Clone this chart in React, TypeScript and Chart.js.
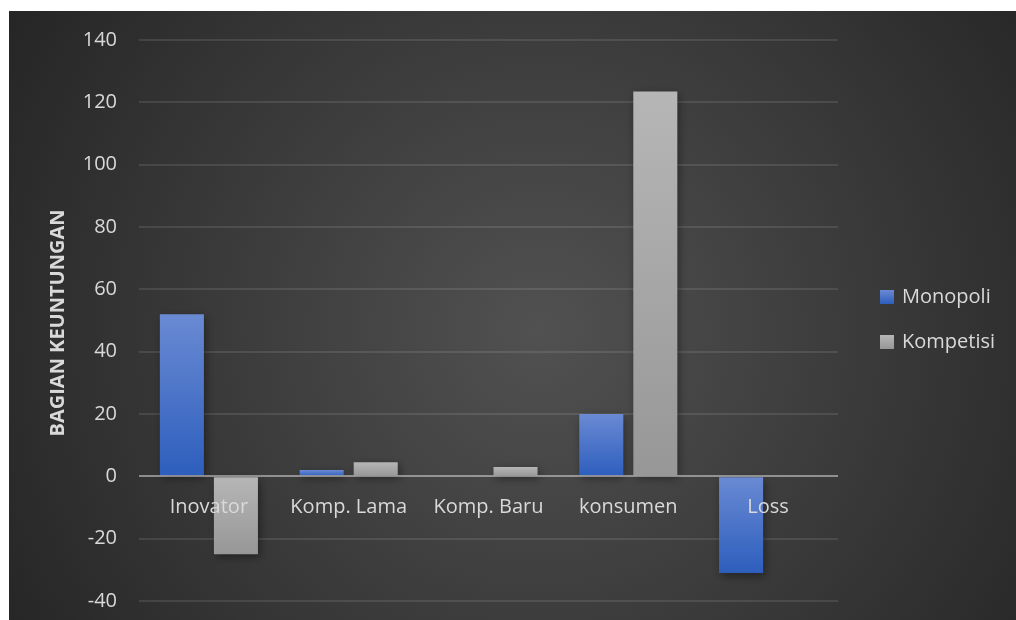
import React, { useEffect, useRef } from "react";
import { Chart, registerables } from "chart.js";

Chart.register(...registerables);

const categories = ["Inovator", "Komp. Lama", "Komp. Baru", "konsumen", "Loss"];
const monopoli = [52, 2, 0, 20, -31];
const kompetisi = [-25, 4.5, 3, 123.5, 0];
const seriesNames = ["Monopoli", "Kompetisi"];
const yAxisTitle = "BAGIAN KEUNTUNGAN";
const yMin = -40;
const yMax = 140;
const yStep = 20;

const FONT = "'Open Sans', 'DejaVu Sans', sans-serif";
const TEXT = "#d9d9d9";

const palettes = [
  { light: "#6a8ad3", dark: "#2d5ebd", legend: "#4a72cc" },
  { light: "#b6b6b6", dark: "#979797", legend: "#a8a8a8" },
];

function gradientFill(pal: { light: string; dark: string; legend: string }) {
  return (ctx: any) => {
    const chart = ctx.chart;
    if (ctx.type !== "data" || !chart.chartArea || !chart.scales.y) return pal.legend;
    const v = ctx.raw as number;
    const y = chart.scales.y;
    const top = y.getPixelForValue(Math.max(v, 0));
    const bot = y.getPixelForValue(Math.min(v, 0));
    if (!isFinite(top) || !isFinite(bot) || top === bot) return pal.legend;
    const g = chart.ctx.createLinearGradient(0, top, 0, bot);
    g.addColorStop(0, pal.light);
    g.addColorStop(1, pal.dark);
    return g;
  };
}

const backgroundPlugin = {
  id: "bgPanel",
  beforeDraw(chart: any) {
    const { ctx, width, height } = chart;
    ctx.save();
    const g = ctx.createRadialGradient(540, 330, 0, 540, 330, 640);
    g.addColorStop(0, "#515151");
    g.addColorStop(1, "#242424");
    ctx.fillStyle = g;
    ctx.fillRect(9, 11, width - 9, height - 11);
    ctx.restore();
  },
};

const shadowPlugin = {
  id: "barShadow",
  beforeDatasetsDraw(chart: any) {
    const ctx = chart.ctx;
    ctx.save();
    ctx.shadowColor = "rgba(0,0,0,0.45)";
    ctx.shadowBlur = 9;
    ctx.shadowOffsetX = 2;
    ctx.shadowOffsetY = 3;
  },
  afterDatasetsDraw(chart: any) {
    chart.ctx.restore();
  },
};

const overlayPlugin = {
  id: "overlay",
  afterDatasetsDraw(chart: any) {
    const { ctx, chartArea, scales } = chart;
    const xS = scales.x;
    const yS = scales.y;
    const y0 = yS.getPixelForValue(0);
    ctx.save();
    // zero axis line
    ctx.strokeStyle = "rgba(215,215,215,0.55)";
    ctx.lineWidth = 2;
    ctx.beginPath();
    ctx.moveTo(chartArea.left, Math.round(y0));
    ctx.lineTo(chartArea.right, Math.round(y0));
    ctx.stroke();
    // category labels next to the zero line
    ctx.fillStyle = TEXT;
    ctx.font = `20px ${FONT}`;
    ctx.textAlign = "center";
    ctx.textBaseline = "middle";
    categories.forEach((c, i) => {
      ctx.fillText(c, xS.getPixelForValue(i), y0 + 31);
    });
    // y axis title
    ctx.save();
    ctx.translate(58, 323);
    ctx.rotate(-Math.PI / 2);
    ctx.font = `bold 20px ${FONT}`;
    ctx.fillText(yAxisTitle, 0, 0);
    ctx.restore();
    // legend
    ctx.textAlign = "left";
    ctx.font = `20px ${FONT}`;
    seriesNames.forEach((name, i) => {
      const cy = 297 + i * 45;
      const pal = palettes[i];
      const g = ctx.createLinearGradient(0, cy - 7, 0, cy + 7);
      g.addColorStop(0, pal.light);
      g.addColorStop(1, pal.dark);
      ctx.fillStyle = g;
      ctx.fillRect(880, cy - 7, 14, 14);
      ctx.fillStyle = TEXT;
      ctx.fillText(name, 902, cy);
    });
    ctx.restore();
  },
};

export default function App() {
  const ref = useRef<HTMLCanvasElement | null>(null);
  useEffect(() => {
    if (!ref.current) return;
    const chart = new Chart(ref.current, {
      type: "bar",
      data: {
        labels: categories,
        datasets: [
          {
            label: seriesNames[0],
            data: monopoli,
            backgroundColor: gradientFill(palettes[0]),
            borderWidth: 0,
            categoryPercentage: 0.773,
            barPercentage: 0.815,
          },
          {
            label: seriesNames[1],
            data: kompetisi,
            backgroundColor: gradientFill(palettes[1]),
            borderWidth: 0,
            categoryPercentage: 0.773,
            barPercentage: 0.815,
          },
        ],
      },
      options: {
        responsive: false,
        animation: false,
        events: [],
        layout: { padding: { top: 40, bottom: 19, left: 0, right: 178 } },
        plugins: {
          legend: { display: false },
          tooltip: { enabled: false },
          title: { display: false },
        },
        scales: {
          x: { display: false },
          y: {
            min: yMin,
            max: yMax,
            ticks: {
              stepSize: yStep,
              color: TEXT,
              padding: 22,
              font: { family: FONT, size: 20 },
            },
            grid: {
              color: (c: any) => (c.tick && c.tick.value === 0 ? "rgba(0,0,0,0)" : "rgba(255,255,255,0.1)"),
              lineWidth: 2,
              drawTicks: false,
            },
            border: { display: false },
            afterFit(scale: any) {
              scale.width = 139;
              scale.paddingTop = 0;
              scale.paddingBottom = 0;
            },
          },
        },
      },
      plugins: [backgroundPlugin, shadowPlugin, overlayPlugin],
    });
    return () => chart.destroy();
  }, []);
  return (
    <div style={{ position: "fixed", left: 0, top: 0, width: 1016, height: 620 }}>
      <canvas ref={ref} width={1016} height={620} style={{ display: "block" }} />
    </div>
  );
}
